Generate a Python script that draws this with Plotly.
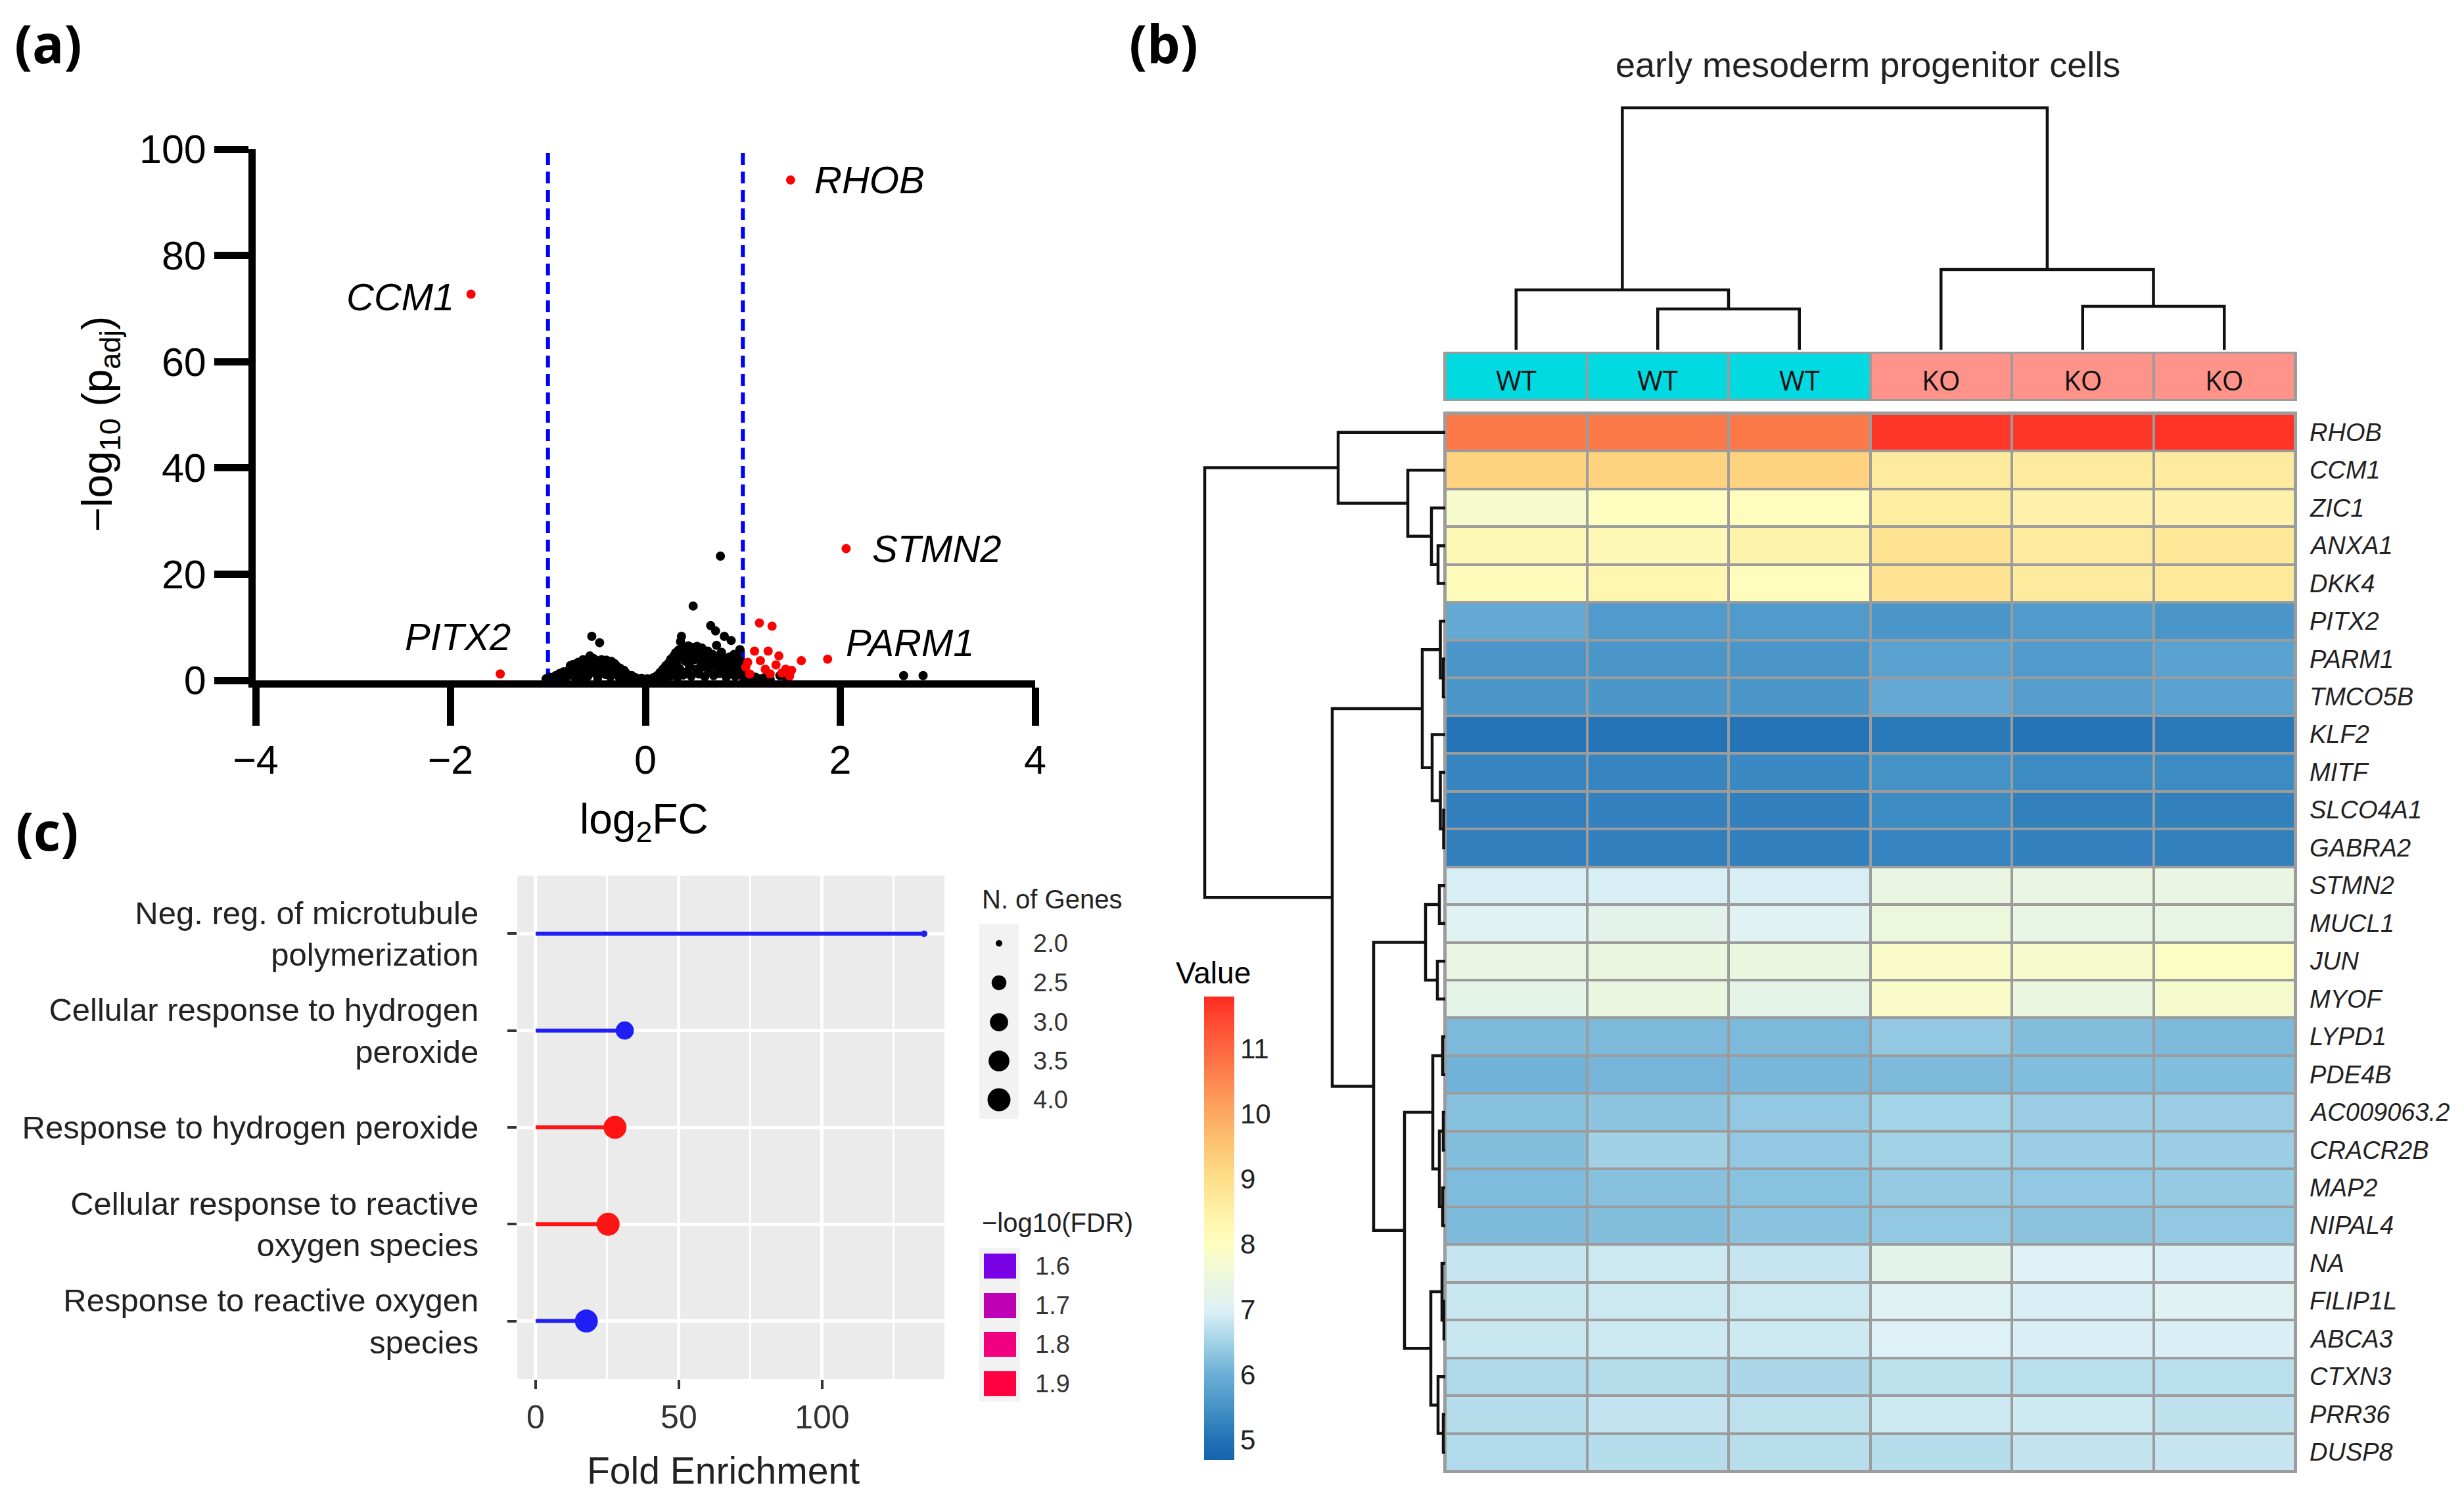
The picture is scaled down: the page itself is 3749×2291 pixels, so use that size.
import plotly.graph_objects as go

W, H = 3749, 2291
OFF = 8  # default page body margin of the written html
def fx(p): return (p - OFF) / W
def fy(p): return 1 - (p - OFF) / H

FONT = "Liberation Sans, Arial, sans-serif"

# ---------------- Panel (a): volcano data ----------------
black_x = [-1.02,-0.98,-0.95,-0.92,-0.90,-0.88,-0.86,-0.84,-0.82,-0.80,-0.78,-0.77,-0.75,-0.73,-0.71,-0.70,-0.68,-0.66,-0.65,-0.63,
           -0.62,-0.60,-0.59,-0.58,-0.57,-0.56,-0.55,-0.54,-0.53,-0.52,-0.50,-0.49,-0.48,-0.47,-0.46,-0.45,-0.44,-0.42,-0.41,-0.40,
           -0.39,-0.38,-0.36,-0.35,-0.34,-0.32,-0.31,-0.30,-0.28,-0.27,-0.26,-0.24,-0.22,-0.21,-0.20,-0.18,-0.16,-0.14,-0.12,-0.10,
           -0.07,-0.04,-0.01,0.02,
           0.05,0.08,0.10,0.12,0.14,0.15,0.17,0.18,0.20,0.21,0.22,0.24,0.25,0.26,0.27,0.28,0.29,0.30,0.31,0.32,
           0.33,0.34,0.35,0.36,0.37,0.38,0.39,0.40,0.41,0.42,0.43,0.44,0.45,0.46,0.47,0.48,0.49,0.50,0.51,0.52,
           0.53,0.54,0.55,0.56,0.57,0.58,0.59,0.60,0.61,0.62,0.63,0.64,0.65,0.66,0.67,0.68,0.69,0.70,0.71,0.72,
           0.73,0.74,0.75,0.76,0.77,0.78,0.79,0.80,0.81,0.82,0.83,0.84,0.85,0.86,0.87,0.88,0.89,0.90,0.91,0.92,
           0.93,0.94,0.95,0.96,0.97,0.98,0.99,1.00,1.01,1.03,1.05,1.08,1.10,1.13,1.17,1.22,1.28,1.38,1.45,
           2.65,2.85,
           -0.74,-0.69,-0.64,-0.61,-0.51,-0.43,-0.37,-0.33,-0.29,-0.25,
           0.23,0.27,0.31,0.35,0.39,0.43,0.47,0.51,0.55,0.59,0.63,0.67,0.71,0.75,0.79,0.83,0.87,0.91,0.95]
black_y = [0.3,0.6,0.2,0.9,0.4,1.3,0.7,1.6,0.5,1.2,2.1,2.8,0.9,1.7,0.4,2.3,1.1,2.7,0.6,3.2,
           1.9,3.6,0.8,2.6,4.6,3.3,8.3,1.5,4.1,2.2,3.7,0.5,3.0,7.1,1.8,3.9,2.5,3.4,1.1,3.8,
           2.0,3.1,0.7,3.6,2.4,3.2,1.3,2.8,2.0,0.6,2.3,1.5,1.9,0.4,1.4,1.0,0.6,0.9,0.3,0.5,
           0.2,0.4,0.1,0.3,
           0.2,0.5,0.3,0.9,0.4,1.5,0.7,2.1,1.2,2.8,0.5,3.3,1.8,4.0,0.9,2.6,4.6,1.4,5.2,3.1,
           0.6,5.7,2.2,7.3,8.3,4.3,1.0,6.1,3.6,5.3,1.7,6.5,2.9,4.8,0.8,6.2,14.0,3.9,5.6,2.1,
           6.4,4.4,1.2,5.9,3.3,6.1,2.5,5.2,0.7,4.7,3.0,5.5,1.6,4.2,10.3,2.7,4.9,0.9,3.8,9.3,
           6.6,2.2,4.5,1.3,23.4,5.3,3.4,1.9,8.3,4.0,0.6,3.1,2.4,4.4,1.2,7.5,3.6,2.0,4.9,0.8,
           3.0,1.6,4.2,2.6,5.8,1.1,3.4,2.1,0.5,1.4,0.7,1.0,0.4,0.6,0.3,0.5,0.2,0.9,0.3,
           0.9,0.9,
           3.0,3.4,3.9,2.9,2.7,2.9,2.6,1.8,1.2,0.9,
           1.9,3.0,3.9,4.6,5.0,4.9,5.1,4.7,4.6,4.4,4.0,3.7,3.3,3.1,2.8,2.2,1.9,1.4,1.0]
red_x = [-1.79,-1.49,1.49,2.06,1.87,1.17,1.30,1.12,1.26,1.37,1.18,1.60,1.05,1.03,1.23,1.34,1.44,1.50,1.48,1.28,1.07,1.40]
red_y = [72.7,1.2,94.2,24.8,4.0,10.8,10.2,5.5,5.5,4.6,3.7,3.7,3.4,2.5,2.1,2.9,2.1,1.9,0.8,1.2,1.2,1.4]
label_genes = ["CCM1", "PITX2", "RHOB", "STMN2", "PARM1"]
fc_threshold = [-1, 1]

# ---------------- Panel (c): GO enrichment ----------------
go_terms = ["Neg. reg. of microtubule<br>polymerization",
            "Cellular response to hydrogen<br>peroxide",
            "Response to hydrogen peroxide",
            "Cellular response to reactive<br>oxygen species",
            "Response to reactive oxygen<br>species"]
fold_enrichment = [135.6, 31.1, 27.7, 25.3, 17.7]
n_genes = [2, 3, 4, 4, 4]
neg_log10_fdr = [1.52, 1.52, 1.98, 1.98, 1.52]
size_legend_vals = [2.0, 2.5, 3.0, 3.5, 4.0]
fdr_legend_vals = [1.6, 1.7, 1.8, 1.9]

# ---------------- Panel (b): heatmap ----------------
samples = ["WT", "WT", "WT", "KO", "KO", "KO"]
genes = ["RHOB", "CCM1", "ZIC1", "ANXA1", "DKK4", "PITX2", "PARM1", "TMCO5B", "KLF2", "MITF",
         "SLCO4A1", "GABRA2", "STMN2", "MUCL1", "JUN", "MYOF", "LYPD1", "PDE4B", "AC009063.2",
         "CRACR2B", "MAP2", "NIPAL4", "NA", "FILIP1L", "ABCA3", "CTXN3", "PRR36", "DUSP8"]
expr = [
    [10.70, 10.70, 10.70, 11.65, 11.65, 11.70],
    [9.25, 9.25, 9.25, 8.65, 8.65, 8.65],
    [7.80, 8.00, 8.05, 8.60, 8.45, 8.45],
    [8.20, 8.20, 8.40, 8.85, 8.65, 8.75],
    [8.10, 8.30, 8.05, 8.85, 8.65, 8.70],
    [5.90, 5.65, 5.65, 5.55, 5.65, 5.55],
    [5.55, 5.55, 5.55, 5.75, 5.65, 5.75],
    [5.58, 5.58, 5.58, 5.90, 5.70, 5.75],
    [5.05, 5.05, 5.05, 5.12, 5.05, 5.12],
    [5.30, 5.30, 5.35, 5.48, 5.38, 5.38],
    [5.22, 5.24, 5.22, 5.38, 5.23, 5.23],
    [5.22, 5.22, 5.22, 5.30, 5.24, 5.23],
    [6.95, 6.95, 6.95, 7.40, 7.40, 7.40],
    [7.10, 7.20, 7.10, 7.50, 7.35, 7.35],
    [7.40, 7.45, 7.45, 7.85, 7.75, 7.95],
    [7.25, 7.45, 7.25, 7.85, 7.45, 7.75],
    [6.15, 6.15, 6.15, 6.35, 6.22, 6.15],
    [6.05, 6.10, 6.12, 6.15, 6.20, 6.20],
    [6.25, 6.30, 6.35, 6.50, 6.42, 6.42],
    [6.22, 6.47, 6.35, 6.48, 6.43, 6.43],
    [6.18, 6.25, 6.27, 6.38, 6.35, 6.38],
    [6.16, 6.22, 6.28, 6.35, 6.29, 6.35],
    [6.80, 6.85, 6.80, 7.20, 7.00, 6.97],
    [6.82, 6.85, 6.85, 7.05, 6.97, 7.10],
    [6.82, 6.86, 6.86, 7.00, 6.97, 6.97],
    [6.60, 6.65, 6.57, 6.72, 6.70, 6.70],
    [6.66, 6.77, 6.72, 6.86, 6.86, 6.74],
    [6.62, 6.66, 6.68, 6.66, 6.78, 6.80],
]
colorbar_ticks = [5, 6, 7, 8, 9, 10, 11]
z_min, z_max = 4.69, 11.8

# row dendrogram (hclust-style merge: negative = leaf, positive = earlier merge, 1-based)
row_merge_a = [-4, -3, -2, -1, -7, -6, -11, -10, -9, 6, -13, -15, 11, -17, -19, -21, 15, 14, -24, -23, -27, -26, 20, 18, 13, 10, 4]
row_merge_b = [-5, 1, 2, 3, -8, 5, -12, 7, 8, 9, -14, -16, 12, -18, -20, -22, 16, 17, -25, 19, -28, 21, 22, 23, 24, 25, 26]
row_merge_h = [1.1, 2.1, 5.7, 16.3, 0.3, 0.75, 0.25, 0.75, 2.0, 3.5, 0.9, 1.2, 3.0, 0.4, 0.3, 0.4, 0.9, 1.9,
               0.2, 0.5, 0.3, 1.1, 2.2, 6.2, 10.9, 17.2, 36.6]
col_merge_a = [-2, -1, -5, -4, 2]
col_merge_b = [-3, 1, -6, 3, 4]
col_merge_h = [6.2, 9.1, 6.6, 12.2, 36.8]

# ---------------- helpers ----------------
def hex_to_rgb(h):
    h = h.lstrip("#")
    return tuple(int(h[i:i + 2], 16) for i in (0, 2, 4))

def interp_color(v, stops, cols):
    if v <= stops[0]:
        return cols[0]
    for i in range(len(stops) - 1):
        if stops[i] <= v <= stops[i + 1]:
            t = (v - stops[i]) / (stops[i + 1] - stops[i])
            a, b = hex_to_rgb(cols[i]), hex_to_rgb(cols[i + 1])
            c = [round(a[k] + (b[k] - a[k]) * t) for k in range(3)]
            return "rgb(%d,%d,%d)" % tuple(c)
    return cols[-1]

fdr_stops = [1.52, 1.6, 1.7, 1.8, 1.9, 1.98]
fdr_cols = ["#1F1FF5", "#7A00E6", "#C000B6", "#F00080", "#FF0040", "#FF1414"]
def fdr_color(v):
    return interp_color(v, fdr_stops, fdr_cols)

def gene_size(n):
    lo, hi = min(size_legend_vals), max(size_legend_vals)
    t = (n - lo) / (hi - lo)
    return 10 + (35 - 10) * t ** 0.5

def dendro_segments(ma, mb, mh):
    pos, hts = {}, {}
    xs, ys = [], []
    def get(c):
        if c < 0:
            return -c - 1, 0.0
        return pos[c], hts[c]
    for k, (a, b, h) in enumerate(zip(ma, mb, mh), start=1):
        pa, ha = get(a)
        pb, hb = get(b)
        xs += [pa, pa, pb, pb, None]
        ys += [ha, h, h, hb, None]
        pos[k] = (pa + pb) / 2
        hts[k] = h
    return xs, ys

hm_stops = [4.69, 5.0, 5.5, 6.0, 6.5, 7.0, 7.5, 8.0, 8.5, 9.0, 9.5, 10.0, 10.5, 11.0, 11.5, 11.8]
hm_cols = ["#1464AE", "#2171B5", "#4693C7", "#6BAED6", "#A3D3E6", "#DDF1F6", "#EDF7DC", "#FEFEC0",
           "#FFF0A6", "#FEDF8A", "#FDC574", "#FDA862", "#FC8850", "#FD6640", "#FF4430", "#FF2A20"]
hm_colorscale = [[(s - z_min) / (z_max - z_min), c] for s, c in zip(hm_stops, hm_cols)]

fig = go.Figure()

# ---------------- Panel (a) traces ----------------
for xv in fc_threshold:
    fig.add_trace(go.Scatter(x=[xv, xv], y=[0, 100], mode="lines", xaxis="x", yaxis="y",
                             line=dict(color="#0000FF", width=6, dash="18px,10px"), showlegend=False))
fig.add_trace(go.Scatter(x=black_x, y=black_y, mode="markers", xaxis="x", yaxis="y", cliponaxis=False,
                         marker=dict(color="black", size=14, opacity=1, line=dict(width=0)), showlegend=False))
fig.add_trace(go.Scatter(x=red_x, y=red_y, mode="markers", xaxis="x", yaxis="y", cliponaxis=False,
                         marker=dict(color="#FF0000", size=14, opacity=1, line=dict(width=0)), showlegend=False))

label_style = {"CCM1": ("right", -24, -4), "PITX2": ("right", 18, 57), "RHOB": ("left", 34, 0),
               "STMN2": ("left", 38, 0), "PARM1": ("left", 26, 25)}
annotations = []
for g, xv, yv in zip(label_genes, red_x[:5], red_y[:5]):
    anc, xs_, ys_ = label_style[g]
    annotations.append(dict(x=xv, y=yv, xref="x", yref="y", text=g, showarrow=False, xanchor=anc,
                            yanchor="middle", xshift=xs_, yshift=ys_,
                            font=dict(family=FONT, size=58, color="black", style="italic")))

# ---------------- Panel (c) traces ----------------
for term, fe, fdr in zip(go_terms, fold_enrichment, neg_log10_fdr):
    fig.add_trace(go.Scatter(x=[0, fe], y=[term, term], mode="lines", xaxis="x2", yaxis="y2",
                             line=dict(color=fdr_color(fdr), width=6), showlegend=False))
fig.add_trace(go.Scatter(x=fold_enrichment, y=go_terms, mode="markers", xaxis="x2", yaxis="y2",
                         marker=dict(color=[fdr_color(v) for v in neg_log10_fdr], opacity=1,
                                     size=[gene_size(n) for n in n_genes], line=dict(width=0)),
                         showlegend=False, cliponaxis=False))

# legend (c): size key (pixel-coordinate helper axis)
leg_y = [1435, 1495, 1555, 1614, 1673]
fig.add_trace(go.Scatter(x=[1520] * len(size_legend_vals), y=leg_y, mode="markers", xaxis="x7", yaxis="y7",
                         marker=dict(color="black", opacity=1, size=[gene_size(v) for v in size_legend_vals],
                                     line=dict(width=0)),
                         showlegend=False, cliponaxis=False))

# ---------------- Panel (b) traces ----------------
fig.add_trace(go.Heatmap(z=expr, x=list(range(len(samples))), y=list(range(len(genes))), xaxis="x3", yaxis="y3",
                         colorscale=hm_colorscale, zmin=z_min, zmax=z_max, xgap=4, ygap=4, hoverinfo="skip",
                         colorbar=dict(x=fx(1832), xanchor="left", y=fy(2221), yanchor="bottom",
                                       len=705 / H, lenmode="fraction", thickness=46, thicknessmode="pixels",
                                       xpad=0, ypad=0, outlinewidth=0, tickvals=colorbar_ticks, ticks="",
                                       tickfont=dict(family=FONT, size=42, color="#222"))))
group_code = [0 if s == "WT" else 1 for s in samples]
fig.add_trace(go.Heatmap(z=[group_code], x=list(range(len(samples))), y=[0], xaxis="x4", yaxis="y4",
                         colorscale=[[0, "#00DAE0"], [0.5, "#00DAE0"], [0.5, "#FF9289"], [1, "#FF9289"]],
                         zmin=0, zmax=1, showscale=False, xgap=4, hoverinfo="skip"))
cx, cy = dendro_segments(col_merge_a, col_merge_b, col_merge_h)
fig.add_trace(go.Scatter(x=cx, y=cy, mode="lines", xaxis="x5", yaxis="y5",
                         line=dict(color="#111", width=4.5), showlegend=False, cliponaxis=False))
rx, ry = dendro_segments(row_merge_a, row_merge_b, row_merge_h)
fig.add_trace(go.Scatter(x=ry, y=rx, mode="lines", xaxis="x6", yaxis="y6",
                         line=dict(color="#111", width=4.5), showlegend=False, cliponaxis=False))

for j, s in enumerate(samples):
    annotations.append(dict(x=j, y=0, xref="x4", yref="y4", text=s, showarrow=False,
                            xanchor="center", yanchor="middle", yshift=-5,
                            font=dict(family="Open Sans, sans-serif", size=42, color="#111")))
for i, g in enumerate(genes):
    annotations.append(dict(x=fx(3512), y=i, xref="paper", yref="y3", text=g, showarrow=False,
                            xanchor="left", yanchor="middle",
                            font=dict(family=FONT, size=38, color="#222", style="italic")))

# ---------------- text annotations ----------------
def txt(x, y, text, size, family=FONT, color="black", xanchor="center", angle=0, weight=None, style=None):
    f = dict(family=family, size=size, color=color)
    if weight:
        f["weight"] = weight
    if style:
        f["style"] = style
    annotations.append(dict(x=fx(x), y=fy(y), xref="paper", yref="paper", text=text, showarrow=False,
                            xanchor=xanchor, yanchor="middle", textangle=angle, font=f))

PANEL_FONT = "Open Sans, sans-serif"
txt(20, 64, "(a)", 80, family=PANEL_FONT, xanchor="left", weight="bold")
txt(1716, 64, "(b)", 80, family=PANEL_FONT, xanchor="left", weight="bold")
txt(22, 1262, "(c)", 80, family=PANEL_FONT, xanchor="left", weight="bold")
txt(152, 645, "\u2212log<sub>10</sub> (p<sub>adj</sub>)", 64, angle=-90)
txt(980, 1250, "log<sub>2</sub>FC", 64)
txt(2842, 98, "early mesoderm progenitor cells", 54, color="#222")
txt(1846, 1480, "Value", 46)
txt(1100, 2237, "Fold Enrichment", 57, color="#222")
txt(1492, 1368, "N. of Genes", 40, color="#222", xanchor="left")
txt(1492, 1860, "\u2212log10(FDR)", 40, color="#222", xanchor="left")
for v, yy in zip(size_legend_vals, leg_y):
    txt(1570, yy, "%.1f" % v, 38, color="#333", xanchor="left")
fdr_leg_y = [1926, 1986, 2045, 2105]
for v, yy in zip(fdr_legend_vals, fdr_leg_y):
    txt(1573, yy, "%.1f" % v, 38, color="#333", xanchor="left")

# ---------------- shapes ----------------
shapes = [
    dict(type="rect", xref="x2 domain", yref="y2 domain", x0=0, x1=1, y0=0, y1=1,
         fillcolor="#EBEBEB", line=dict(width=0), layer="below"),
    dict(type="rect", xref="paper", yref="paper", x0=fx(2196), x1=fx(3495), y0=fy(2241), y1=fy(626),
         fillcolor="#9C9C9C", line=dict(width=0), layer="below"),
    dict(type="rect", xref="paper", yref="paper", x0=fx(2196), x1=fx(3495), y0=fy(610), y1=fy(535),
         fillcolor="#9C9C9C", line=dict(width=0), layer="below"),
    dict(type="rect", xref="paper", yref="paper", x0=fx(1490), x1=fx(1550), y0=fy(1702), y1=fy(1405),
         fillcolor="#F2F2F2", line=dict(width=0), layer="below"),
    dict(type="rect", xref="paper", yref="paper", x0=fx(1490), x1=fx(1552), y0=fy(2132), y1=fy(1898),
         fillcolor="#F2F2F2", line=dict(width=0), layer="below"),
]
for v, yy in zip(fdr_legend_vals, fdr_leg_y):
    shapes.append(dict(type="rect", xref="paper", yref="paper", x0=fx(1497), x1=fx(1546),
                       y0=fy(yy + 19), y1=fy(yy - 19), fillcolor=fdr_color(v), line=dict(width=0)))

hidden = dict(visible=False, showgrid=False, zeroline=False, automargin=False)
fig.update_layout(
    width=W, height=H, margin=dict(l=0, r=0, t=0, b=0, pad=0, autoexpand=False),
    paper_bgcolor="white", plot_bgcolor="rgba(0,0,0,0)", showlegend=False,
    font=dict(family=FONT, color="black"),
    xaxis=dict(domain=[fx(389), fx(1575)], range=[-4, 4], anchor="y", tickvals=[-4, -2, 0, 2, 4],
               ticks="outside", ticklen=58, tickwidth=11, tickcolor="black", showline=True, linewidth=11,
               linecolor="black", showgrid=False, zeroline=False, automargin=False,
               tickfont=dict(family=FONT, size=61)),
    yaxis=dict(domain=[fy(1035), fy(227)], range=[0, 100], anchor="x", tickvals=[0, 20, 40, 60, 80, 100],
               ticks="outside", ticklen=52, tickwidth=11, tickcolor="black", showline=True, linewidth=11,
               linecolor="black", showgrid=False, zeroline=False, automargin=False,
               tickfont=dict(family=FONT, size=61)),
    xaxis2=dict(domain=[fx(787), fx(1437)], range=[-6.42, 142.7], anchor="y2", tickvals=[0, 50, 100],
                ticks="outside", ticklen=14, tickwidth=4, tickcolor="#333", showline=False,
                showgrid=True, gridcolor="white", gridwidth=5, zeroline=False, automargin=False,
                minor=dict(dtick=25, tick0=0, showgrid=True, gridcolor="white", gridwidth=2.5, ticks=""),
                tickfont=dict(family=FONT, size=50, color="#333")),
    yaxis2=dict(domain=[fy(2098), fy(1332)], anchor="x2", type="category",
                categoryarray=list(reversed(go_terms)), range=[-0.6, 4.6],
                ticks="outside", ticklen=14, tickwidth=4, tickcolor="#333", ticklabelstandoff=34,
                showgrid=True, gridcolor="white", gridwidth=5, zeroline=False, automargin=False,
                tickfont=dict(family=FONT, size=49, color="#222")),
    xaxis3=dict(domain=[fx(2199), fx(3492)], range=[-0.5, 5.5], anchor="y3", **hidden),
    yaxis3=dict(domain=[fy(2238), fy(629)], range=[27.5, -0.5], anchor="x3", **hidden),
    xaxis4=dict(domain=[fx(2199), fx(3492)], range=[-0.5, 5.5], anchor="y4", **hidden),
    yaxis4=dict(domain=[fy(607), fy(538)], range=[-0.5, 0.5], anchor="x4", **hidden),
    xaxis5=dict(domain=[fx(2199), fx(3492)], range=[-0.5, 5.5], anchor="y5", **hidden),
    yaxis5=dict(domain=[fy(532), fy(160)], range=[0, 37.2], anchor="x5", **hidden),
    xaxis6=dict(domain=[fx(1830), fx(2199)], range=[36.9, 0], anchor="y6", **hidden),
    yaxis6=dict(domain=[fy(2238), fy(629)], range=[27.5, -0.5], anchor="x6", **hidden),
    xaxis7=dict(domain=[0, 1], range=[OFF, W + OFF], anchor="y7", **hidden),
    yaxis7=dict(domain=[0, 1], range=[H + OFF, OFF], anchor="x7", **hidden),
    annotations=annotations, shapes=shapes,
)

fig.write_html("out.html")
